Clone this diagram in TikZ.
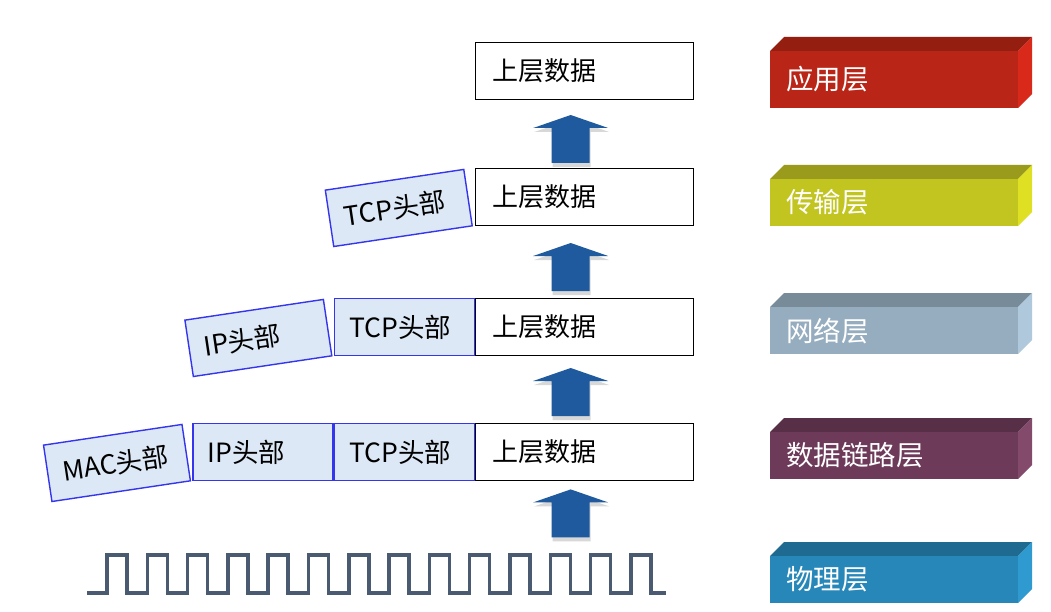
\documentclass[tikz,border=0pt]{standalone}
\usepackage{fontspec}
\setmainfont{Noto Sans CJK SC}
\usetikzlibrary{calc, shadows}
\definecolor{headFill}{HTML}{DCE8F5}
\definecolor{headLine}{HTML}{3535EE}
\definecolor{arrowBlue}{HTML}{1F5A9E}
\definecolor{waveGray}{HTML}{4A5A70}
\definecolor{appFront}{HTML}{B92516}
\definecolor{appTop}{HTML}{941F10}
\definecolor{appSide}{HTML}{D8291A}
\definecolor{tranFront}{HTML}{C2C420}
\definecolor{tranTop}{HTML}{9A9A1C}
\definecolor{tranSide}{HTML}{DFE024}
\definecolor{netFront}{HTML}{96ADBF}
\definecolor{netTop}{HTML}{788B99}
\definecolor{netSide}{HTML}{B0C8DC}
\definecolor{linkFront}{HTML}{6E3A5A}
\definecolor{linkTop}{HTML}{573048}
\definecolor{linkSide}{HTML}{834A6C}
\definecolor{phyFront}{HTML}{2887B9}
\definecolor{phyTop}{HTML}{1F6A90}
\definecolor{phySide}{HTML}{2F9AD0}
\tikzset{
  data box/.style={draw=black, line width=1.4pt, fill=white, minimum height=57pt, text width=184pt, inner xsep=17pt, inner ysep=0pt, align=left, font=\fontsize{26}{30}\selectfont},
  head box/.style={draw=headLine, line width=1.4pt, fill=headFill, minimum height=57pt, text width=110pt, inner xsep=15pt, inner ysep=0pt, align=left, font=\fontsize{26.5}{30}\selectfont},
  wave line/.style={line width=3.5pt, waveGray},
  up arrow/.style={fill=arrowBlue, drop shadow={shadow xshift=1pt, shadow yshift=-4pt, opacity=0.3}},
  layer text/.style={white, anchor=west, inner sep=0pt, font=\fontsize{27.5}{30}\selectfont},
}
\newcommand{\drawLayerBox}[7]{
  \fill[#5] (770,#2) -- ++(14,-14) -- ++(248,0) -- ++(-14,14) -- cycle;
  \fill[#6] (1018,#2) -- ++(14,-14) -- ++(0,#3) -- ++(-14,14) -- cycle;
  \fill[#4] (770,#2) rectangle ++(248,#3);
  \node[layer text] (#1) at (786,#2+#3/2) {#7};
}
\newcommand{\drawUpArrow}[1]{
  \fill[up arrow] ($(#1)+(-19,0)$) -- ++(0,-35) -- ++(-18.5,0) -- ++(37.5,-13) -- ++(37.5,13) -- ++(-18.5,0) -- ++(0,35) -- cycle;
}

\begin{document}
\begin{tikzpicture}[x=1pt, y=-1pt]
  \useasboundingbox (0,0) rectangle (1051,612);
  \fill[white] (0,0) rectangle (1051,612);
  % data boxes
  \node[data box, anchor=north west] (data1) at (475,42) {上层数据};
  \node[data box, anchor=north west] (data2) at (475,168) {上层数据};
  \node[data box, anchor=north west] (data3) at (475,298) {上层数据};
  \node[data box, anchor=north west] (data4) at (475,423) {上层数据};
  % headers
  \node[head box, rotate=8.5, anchor=south east] (tcp2) at ($(data2.south west)+(-2,0)$) {TCP头部};
  \node[head box, anchor=south east] (tcp3) at (data3.south west) {TCP头部};
  \node[head box, rotate=8.5, anchor=south east] (ip3) at ($(tcp3.south west)+(-1,0)$) {IP头部};
  \node[head box, anchor=south east] (tcp4) at (data4.south west) {TCP头部};
  \node[head box, anchor=south east] (ip4) at (tcp4.south west) {IP头部};
  \node[head box, rotate=8.5, anchor=south east] (mac4) at ($(ip4.south west)+(-1,0)$) {MAC头部};
  % arrows
  \coordinate (arr1) at ($(data2.north)+(-14,-5)$);
  \coordinate (arr2) at ($(data3.north)+(-14,-7)$);
  \coordinate (arr3) at ($(data4.north)+(-14,-7)$);
  \coordinate (arr4) at ($(data4.south)+(-14,56)$);
  \drawUpArrow{arr1}
  \drawUpArrow{arr2}
  \drawUpArrow{arr3}
  \drawUpArrow{arr4}
  % signal
  \draw[wave line] (87,593) \foreach \i in {0,...,13} { -- (107+40.3*\i,593) -- (107+40.3*\i,555) -- (127+40.3*\i,555) -- (127+40.3*\i,593) } -- (666,593);
  % layers
  \drawLayerBox{app}{51}{57}{appFront}{appTop}{appSide}{应用层}
  \drawLayerBox{tran}{179}{47}{tranFront}{tranTop}{tranSide}{传输层}
  \drawLayerBox{net}{307}{47}{netFront}{netTop}{netSide}{网络层}
  \drawLayerBox{link}{432}{47}{linkFront}{linkTop}{linkSide}{数据链路层}
  \drawLayerBox{phy}{556}{47}{phyFront}{phyTop}{phySide}{物理层}
\end{tikzpicture}
\end{document}
